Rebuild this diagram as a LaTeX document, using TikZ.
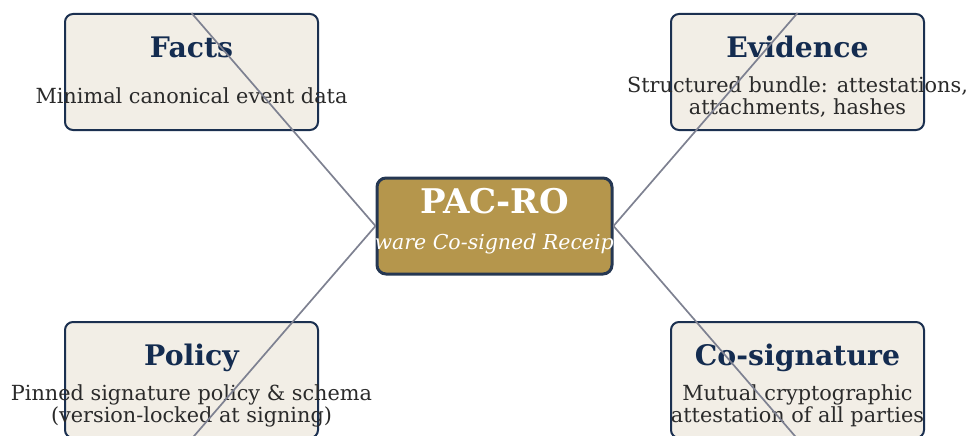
\documentclass[tikz,border=0pt]{standalone}
\usepackage{fontspec}
\setmainfont{DejaVu Serif}
\definecolor{navy}{HTML}{1B3050}
\definecolor{cream}{HTML}{F2EEE6}
\definecolor{titleblue}{HTML}{142C50}
\definecolor{bodygray}{HTML}{2A2A2A}
\definecolor{linkgray}{HTML}{7E8191}
\definecolor{gold}{HTML}{B5964C}
\definecolor{coreborder}{HTML}{253752}
\begin{document}
\begin{tikzpicture}[x=1pt,y=-1pt,
  box/.style={draw=navy, line width=2pt, fill=cream, rounded corners=8pt,
    minimum width=253pt, minimum height=116pt, inner sep=0pt},
  cbox/.style={draw=coreborder, line width=3pt, fill=gold, rounded corners=9pt,
    minimum width=235pt, minimum height=96pt, inner sep=0pt},
  ttl/.style={text=titleblue, font=\fontsize{28.3}{32}\selectfont\bfseries, inner sep=0pt, anchor=base},
  body/.style={text=bodygray, font=\fontsize{20.8}{23.2}\selectfont, inner sep=0pt, anchor=base},
  link/.style={draw=linkgray, line width=1.7pt}]
\useasboundingbox (0,0) rectangle (967,436);
% boxes
\node[box] (facts) at (191.5,72) {};
\node[box] (evid) at (797.5,72) {};
\node[box] (policy) at (191.5,380) {};
\node[box] (cosig) at (797.5,380) {};
\node[cbox] (core) at (494.5,226) {};
% texts
\node[ttl] (factsT) at (191.5,58) {Facts};
\node[body] (factsB) at (191.5,103) {Minimal canonical event data};
\node[ttl] (evidT) at (797.5,58) {Evidence};
\node[body] (evidB1) at (797.5,92.3) {Structured bundle: attestations,};
\node[body] (evidB2) at (797.5,114.8) {attachments, hashes};
\node[ttl] (policyT) at (191.5,365.5) {Policy};
\node[body] (policyB1) at (191.5,400.3) {Pinned signature policy \& schema};
\node[body] (policyB2) at (191.5,422.5) {(version-locked at signing)};
\node[ttl] (cosigT) at (797.5,365.5) {Co-signature};
\node[body] (cosigB1) at (797.5,400.3) {Mutual cryptographic};
\node[body] (cosigB2) at (797.5,422.5) {attestation of all parties};
\node[text=white, font=\fontsize{34}{38}\selectfont\bfseries, inner sep=0pt, anchor=base] (coreT) at (494.5,213) {PAC-RO};
\node[text=white, font=\fontsize{20.5}{24}\selectfont\itshape, inner sep=0pt, anchor=base] (coreS) at (494.5,249.5) {Policy-Aware Co-signed Receipt Object};
% connectors
\draw[link] (facts.north) -- (core.west);
\draw[link] (evid.north) -- (core.east);
\draw[link] (policy.south) -- (core.west);
\draw[link] (cosig.south) -- (core.east);
\end{tikzpicture}
\end{document}
